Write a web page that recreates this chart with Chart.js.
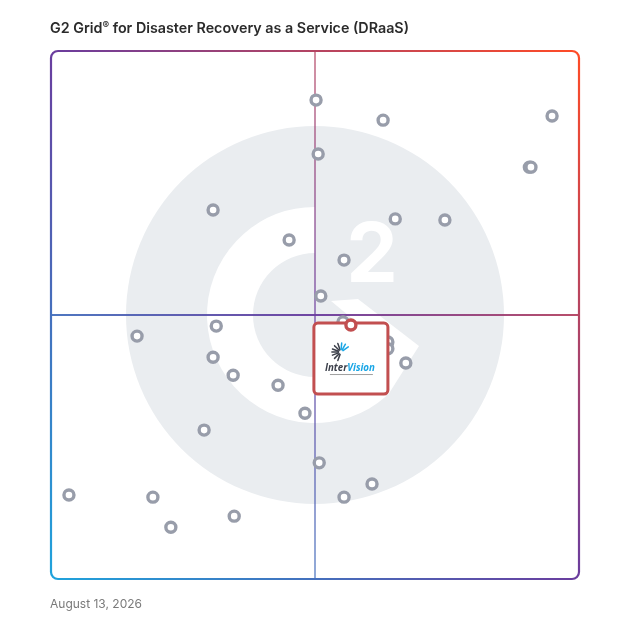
<!DOCTYPE html>
<html>
<head>
<meta charset="utf-8">
<script src="https://cdn.jsdelivr.net/npm/chart.js@4.4.1/dist/chart.umd.min.js"></script>
<style>
    html, body { margin: 0; padding: 0; background: #fff; }
    #wrap { position: relative; width: 628px; height: 628px; }
    #grid { position: absolute; left: 0; top: 0; }
    #title { position: absolute; left: 50px; top: 19px; font-family: Inter, "Open Sans", sans-serif; font-weight: 600; font-size: 14.3px; color: #2b2b2b; white-space: nowrap; }
    #title span { font-size: 10px; vertical-align: 4px; }
    #date { position: absolute; left: 50px; top: 596px; font-family: Inter, "Open Sans", sans-serif; font-size: 12px; color: #7a7a7a; }
</style>
</head>
<body>
<div id="wrap">
    <canvas id="grid"></canvas>
    <div id="title">G2 Grid<span>®</span> for Disaster Recovery as a Service (DRaaS)</div>
    <div id="date">August 13, 2026</div>
</div>
<script>
// product positions, both axes 0-100, midline at 50
var marketPresence = [50.2, 62.9, 94.9, 90.6, 90.9, 50.6, 30.7, 45.1, 65.2, 74.6,
                      55.5, 51.1, 16.3, 31.3, 30.7, 34.5, 43.0, 48.1, 29.0, 3.4,
                      19.3, 22.7, 34.7, 50.8, 60.8, 55.5, 63.8, 63.8, 67.2, 55.3];
var satisfaction   = [90.7, 86.9, 87.7, 78.0, 78.0, 80.5, 69.9, 64.2, 68.2, 68.0,
                      60.4, 53.6, 46.0, 47.9, 42.0, 38.6, 36.7, 31.4, 28.2, 15.9,
                      15.5, 9.8, 11.9, 22.0, 18.0, 15.5, 44.9, 43.6, 40.9, 48.7];

// the highlighted vendor
var featuredName = 'InterVision';
var featuredX = [56.8];
var featuredY = [48.1];

var axisMin = 0;
var axisMax = 100;
var axisMid = 50;

function toPoints(xs, ys)
{
    var out = [];
    for (var i = 0; i < xs.length; i++) {
        out.push({x: xs[i], y: ys[i]});
    }
    return out;
}

// faded G2 mark, quadrant lines and gradient frame
var gridBackground = {
    id: 'gridBackground',
    beforeDatasetsDraw: function(chart) {
        var ctx = chart.ctx;
        var a = chart.chartArea;
        var cx = chart.scales.x.getPixelForValue(axisMid);
        var cy = chart.scales.y.getPixelForValue(axisMid);
        var k = (a.right - a.left) / 528;

        ctx.save();
        ctx.fillStyle = '#eaedf0';
        ctx.beginPath();
        ctx.arc(cx, cy, 189 * k, 0, Math.PI * 2);
        ctx.fill();

        // the G
        ctx.fillStyle = '#ffffff';
        ctx.beginPath();
        ctx.arc(cx, cy, 108 * k, Math.PI * 0.27, Math.PI * 1.5);
        ctx.arc(cx, cy, 62 * k, Math.PI * 1.5, Math.PI * 0.27, true);
        ctx.closePath();
        ctx.fill();
        var chev = [[16, -14], [43, -16], [104, 31], [73, 80], [35, 51], [69, 30]];
        ctx.beginPath();
        for (var i = 0; i < chev.length; i++) {
            ctx.lineTo(cx + chev[i][0] * k, cy + chev[i][1] * k);
        }
        ctx.closePath();
        ctx.fill();

        // the 2
        ctx.font = 'bold ' + (82 * k) + 'px Inter, sans-serif';
        ctx.textAlign = 'center';
        ctx.textBaseline = 'alphabetic';
        ctx.fillText('2', cx + 57 * k, cy - 33 * k);

        var grad = ctx.createLinearGradient(a.left, a.bottom, a.right, a.top);
        grad.addColorStop(0, '#1fa3dc');
        grad.addColorStop(0.5, '#6a3d9e');
        grad.addColorStop(1, '#ff4b26');

        ctx.strokeStyle = grad;
        ctx.lineWidth = 2;
        ctx.globalAlpha = 0.6;
        ctx.beginPath();
        ctx.moveTo(cx, a.top);
        ctx.lineTo(cx, a.bottom);
        ctx.stroke();
        ctx.globalAlpha = 0.95;
        ctx.beginPath();
        ctx.moveTo(a.left, cy);
        ctx.lineTo(a.right, cy);
        ctx.stroke();

        ctx.globalAlpha = 1;
        ctx.lineWidth = 2.2;
        ctx.beginPath();
        ctx.roundRect(a.left, a.top, a.right - a.left, a.bottom - a.top, 7);
        ctx.stroke();
        ctx.restore();
    }
};

// logo card hanging under the featured point, drawn before the red ring
var featuredCard = {
    id: 'featuredCard',
    afterDatasetDraw: function(chart, args) {
        if (args.index !== 1) return;
        var pt = chart.getDatasetMeta(0).data[0];
        if (!pt) return;
        var ctx = chart.ctx;
        var px = pt.x, py = pt.y;

        ctx.save();
        ctx.fillStyle = '#ffffff';
        ctx.strokeStyle = '#c24f50';
        ctx.lineWidth = 3;
        ctx.beginPath();
        ctx.roundRect(px - 37, py - 2, 74, 71, 4);
        ctx.fill();
        ctx.stroke();

        // starburst
        var sx = px - 10, sy = py + 27;
        var rays = [200, 225, 250, 275, 160, 135, 110, 180, 300, 325];
        ctx.lineWidth = 1.5;
        ctx.lineCap = 'round';
        for (var i = 0; i < rays.length; i++) {
            var ang = rays[i] * Math.PI / 180;
            ctx.strokeStyle = (rays[i] >= 275) ? '#19a6e6' : '#3b3f4a';
            ctx.beginPath();
            ctx.moveTo(sx + Math.cos(ang) * 2.5, sy + Math.sin(ang) * 2.5);
            ctx.lineTo(sx + Math.cos(ang) * 9, sy + Math.sin(ang) * 9);
            ctx.stroke();
        }

        // wordmark
        var fam = '"Open Sans", sans-serif';
        ctx.font = 'italic bold 11px ' + fam;
        var full = ctx.measureText(featuredName).width;
        var size = 11 * 50 / full;
        ctx.font = 'italic bold ' + size + 'px ' + fam;
        ctx.textAlign = 'left';
        ctx.textBaseline = 'alphabetic';
        var left = px - 26;
        ctx.fillStyle = '#3b3f4a';
        ctx.fillText('Inter', left, py + 46);
        var w1 = ctx.measureText('Inter').width;
        ctx.fillStyle = '#19a6e6';
        ctx.fillText('Vision', left + w1, py + 46);
        ctx.fillStyle = '#a0a0a0';
        ctx.fillRect(px - 21, py + 49, 43, 1);
        ctx.restore();
    }
};

function G2Grid()
{
    var canvas = document.getElementById('grid');
    canvas.width = 628;
    canvas.height = 628;

    var myChart = new Chart(canvas, {
        type: 'scatter',
        data: {
            datasets: [{
                label: featuredName,
                data: toPoints(featuredX, featuredY),
                pointRadius: 5,
                pointBorderWidth: 3.4,
                borderColor: '#c24f50',
                backgroundColor: '#ffffff'
            }, {
                label: 'Products',
                data: toPoints(marketPresence, satisfaction),
                pointRadius: 5,
                pointBorderWidth: 3.4,
                borderColor: '#989daa',
                backgroundColor: '#ffffff'
            }]
        },
        options: {
            responsive: false,
            animation: false,
            events: [],
            layout: { padding: { left: 51, right: 49, top: 51, bottom: 49 } },
            scales: {
                x: { type: 'linear', min: axisMin, max: axisMax, display: false },
                y: { type: 'linear', min: axisMin, max: axisMax, display: false }
            },
            plugins: {
                legend: { display: false },
                tooltip: { enabled: false }
            }
        },
        plugins: [gridBackground, featuredCard]
    });
}
G2Grid();
</script>
</body>
</html>
